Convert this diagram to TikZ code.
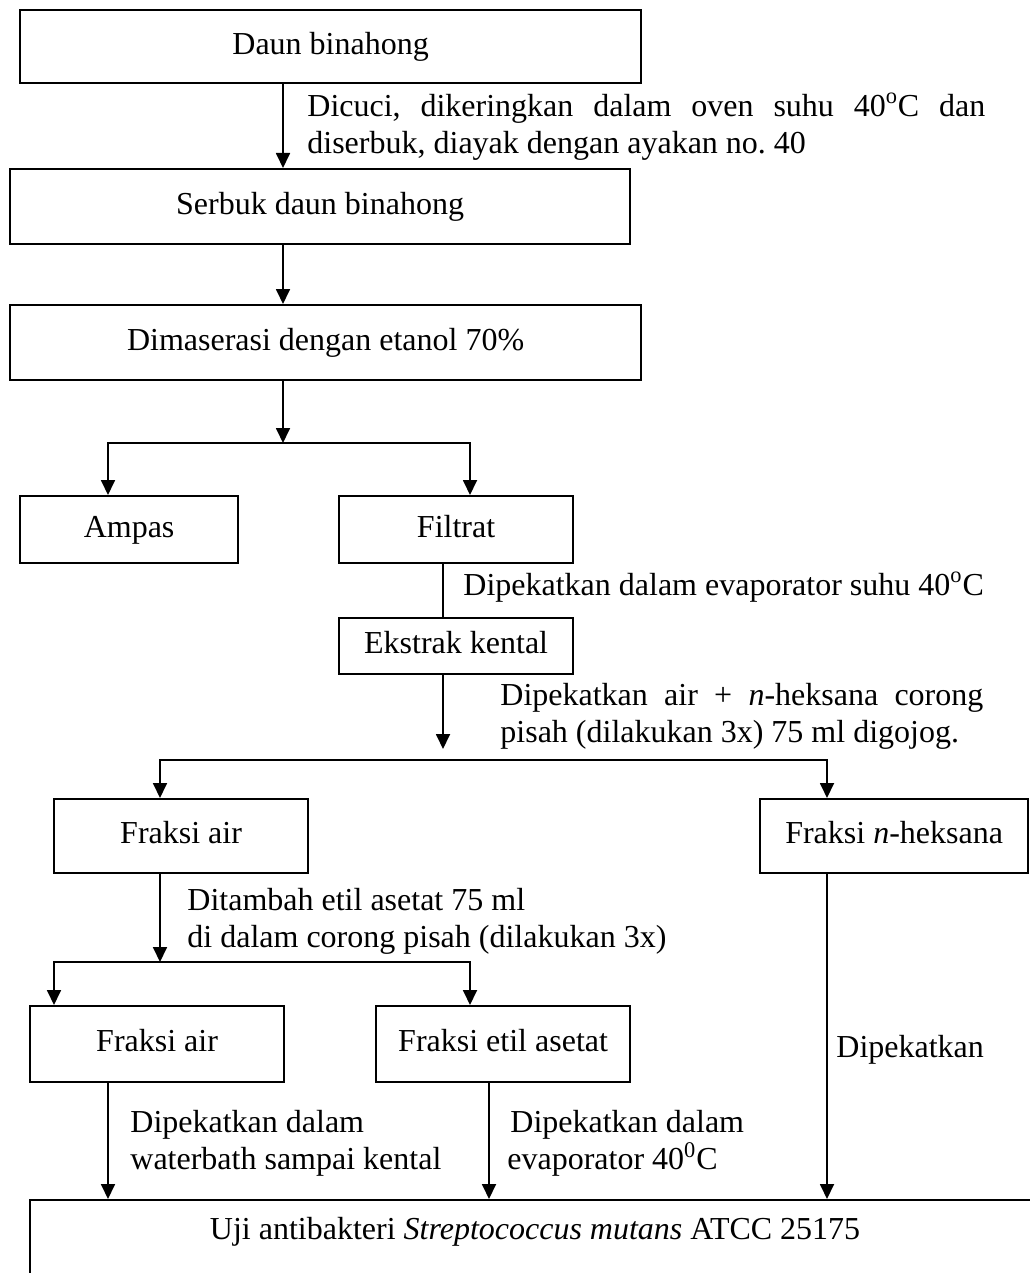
\documentclass[tikz,border=0pt]{standalone}
\usepackage{fontspec}
\setmainfont{Liberation Serif}
\usetikzlibrary{arrows.meta,positioning}
\frenchspacing

\begin{document}
\begin{tikzpicture}[x=0.5pt,y=-0.5pt,
    font=\fontsize{16}{18.5}\selectfont,
    box/.style={draw, line width=1.1pt, inner sep=0pt, anchor=north west, text height=11pt, text depth=3.5pt},
    arr/.style={-{Triangle[length=7.5pt,width=7pt]}, line width=0.9pt},
    fork/.style={{Triangle[length=7.5pt,width=7pt]}-{Triangle[length=7.5pt,width=7pt]}, line width=0.9pt},
    lbl/.style={inner sep=0pt, anchor=north west, align=left}]
  \useasboundingbox (0,0) rectangle (1029,1273);

  % Boxes
  \node[box, minimum width=310.5pt, minimum height=36.5pt] (daun) at (19,9) {Daun binahong};
  \node[box, minimum width=310pt, minimum height=37.5pt] (serbuk) at (9,168) {Serbuk daun binahong};
  \node[box, minimum width=315.5pt, minimum height=37.5pt] (maserasi) at (9,304) {Dimaserasi dengan etanol 70\%};
  \node[box, minimum width=109pt, minimum height=33.5pt] (ampas) at (19,495) {Ampas};
  \node[box, minimum width=117pt, minimum height=33.5pt] (filtrat) at (338,495) {Filtrat};
  \node[box, minimum width=117pt, minimum height=28pt] (ekstrak) at (338,617) {Ekstrak kental};
  \node[box, minimum width=127pt, minimum height=37pt] (fair) at (53,798) {Fraksi air};
  \node[box, minimum width=134pt, minimum height=37pt] (fhek) at (759,798) {Fraksi \textit{n}-heksana};
  \node[box, minimum width=127pt, minimum height=38pt] (fair2) at (29,1005) {Fraksi air};
  \node[box, minimum width=127pt, minimum height=38pt] (fetil) at (375,1005) {Fraksi etil asetat};
  \node[box, minimum width=505pt, text height=19.5pt, text depth=22pt] (uji) at (29,1199)
    {Uji antibakteri \textit{Streptococcus mutans} ATCC 25175};

  % Labels
  \node[lbl, text width=339pt, align=justify] (cuci) at (307,93)
    {Dicuci, dikeringkan dalam oven suhu 40\textsuperscript{o}C dan\linebreak diserbuk, diayak dengan ayakan no. 40};
  \node[inner sep=0pt, anchor=base west] (evap) at (463,595) {Dipekatkan dalam evaporator suhu 40\textsuperscript{o}C};
  \node[lbl, text width=241.5pt, align=justify] (heks) at (500,683)
    {Dipekatkan air + \textit{n}-heksana corong\linebreak pisah (dilakukan 3x) 75 ml digojog.};
  \node[lbl] (etil) at (187,888) {Ditambah etil asetat 75 ml\\di dalam corong pisah (dilakukan 3x)};
  \node[inner sep=0pt, anchor=base west] (pekat) at (836,1057) {Dipekatkan};
  \node[lbl] (wbath) at (130,1110) {Dipekatkan dalam\\waterbath sampai kental};
  \node[lbl] (evap2) at (507,1110) {\hspace{1.5pt}Dipekatkan dalam\\evaporator 40\textsuperscript{0}C};

  % Connectors
  \coordinate (m1) at (283,0);
  \coordinate (m2) at (443,0);
  \coordinate (split1) at (283,443);
  \coordinate (s1a) at (108,443);
  \coordinate (s1b) at (470,443);
  \coordinate (split2) at (443,749);
  \coordinate (s2a) at (160,760);
  \coordinate (s2b) at (827,760);
  \coordinate (split3) at (160,962);
  \coordinate (s3a) at (54,962);
  \coordinate (s3b) at (470,962);
  \coordinate (d1) at (108,0);
  \coordinate (d2) at (489,0);

  \draw[arr] (m1 |- daun.south) -- (m1 |- serbuk.north);
  \draw[arr] (m1 |- serbuk.south) -- (m1 |- maserasi.north);
  \draw[arr] (m1 |- maserasi.south) -- (split1);
  \draw[fork] (s1a |- ampas.north) -- (s1a) -- (s1b) -- (s1b |- filtrat.north);
  \draw[line width=0.9pt] (m2 |- filtrat.south) -- (m2 |- ekstrak.north);
  \draw[arr] (m2 |- ekstrak.south) -- (split2);
  \draw[fork] (s2a |- fair.north) -- (s2a) -- (s2b) -- (s2b |- fhek.north);
  \draw[arr] (s2a |- fair.south) -- (split3);
  \draw[fork] (s3a |- fair2.north) -- (s3a) -- (s3b) -- (s3b |- fetil.north);
  \draw[arr] (d1 |- fair2.south) -- (d1 |- uji.north);
  \draw[arr] (d2 |- fetil.south) -- (d2 |- uji.north);
  \draw[arr] (s2b |- fhek.south) -- (s2b |- uji.north);
\end{tikzpicture}
\end{document}
